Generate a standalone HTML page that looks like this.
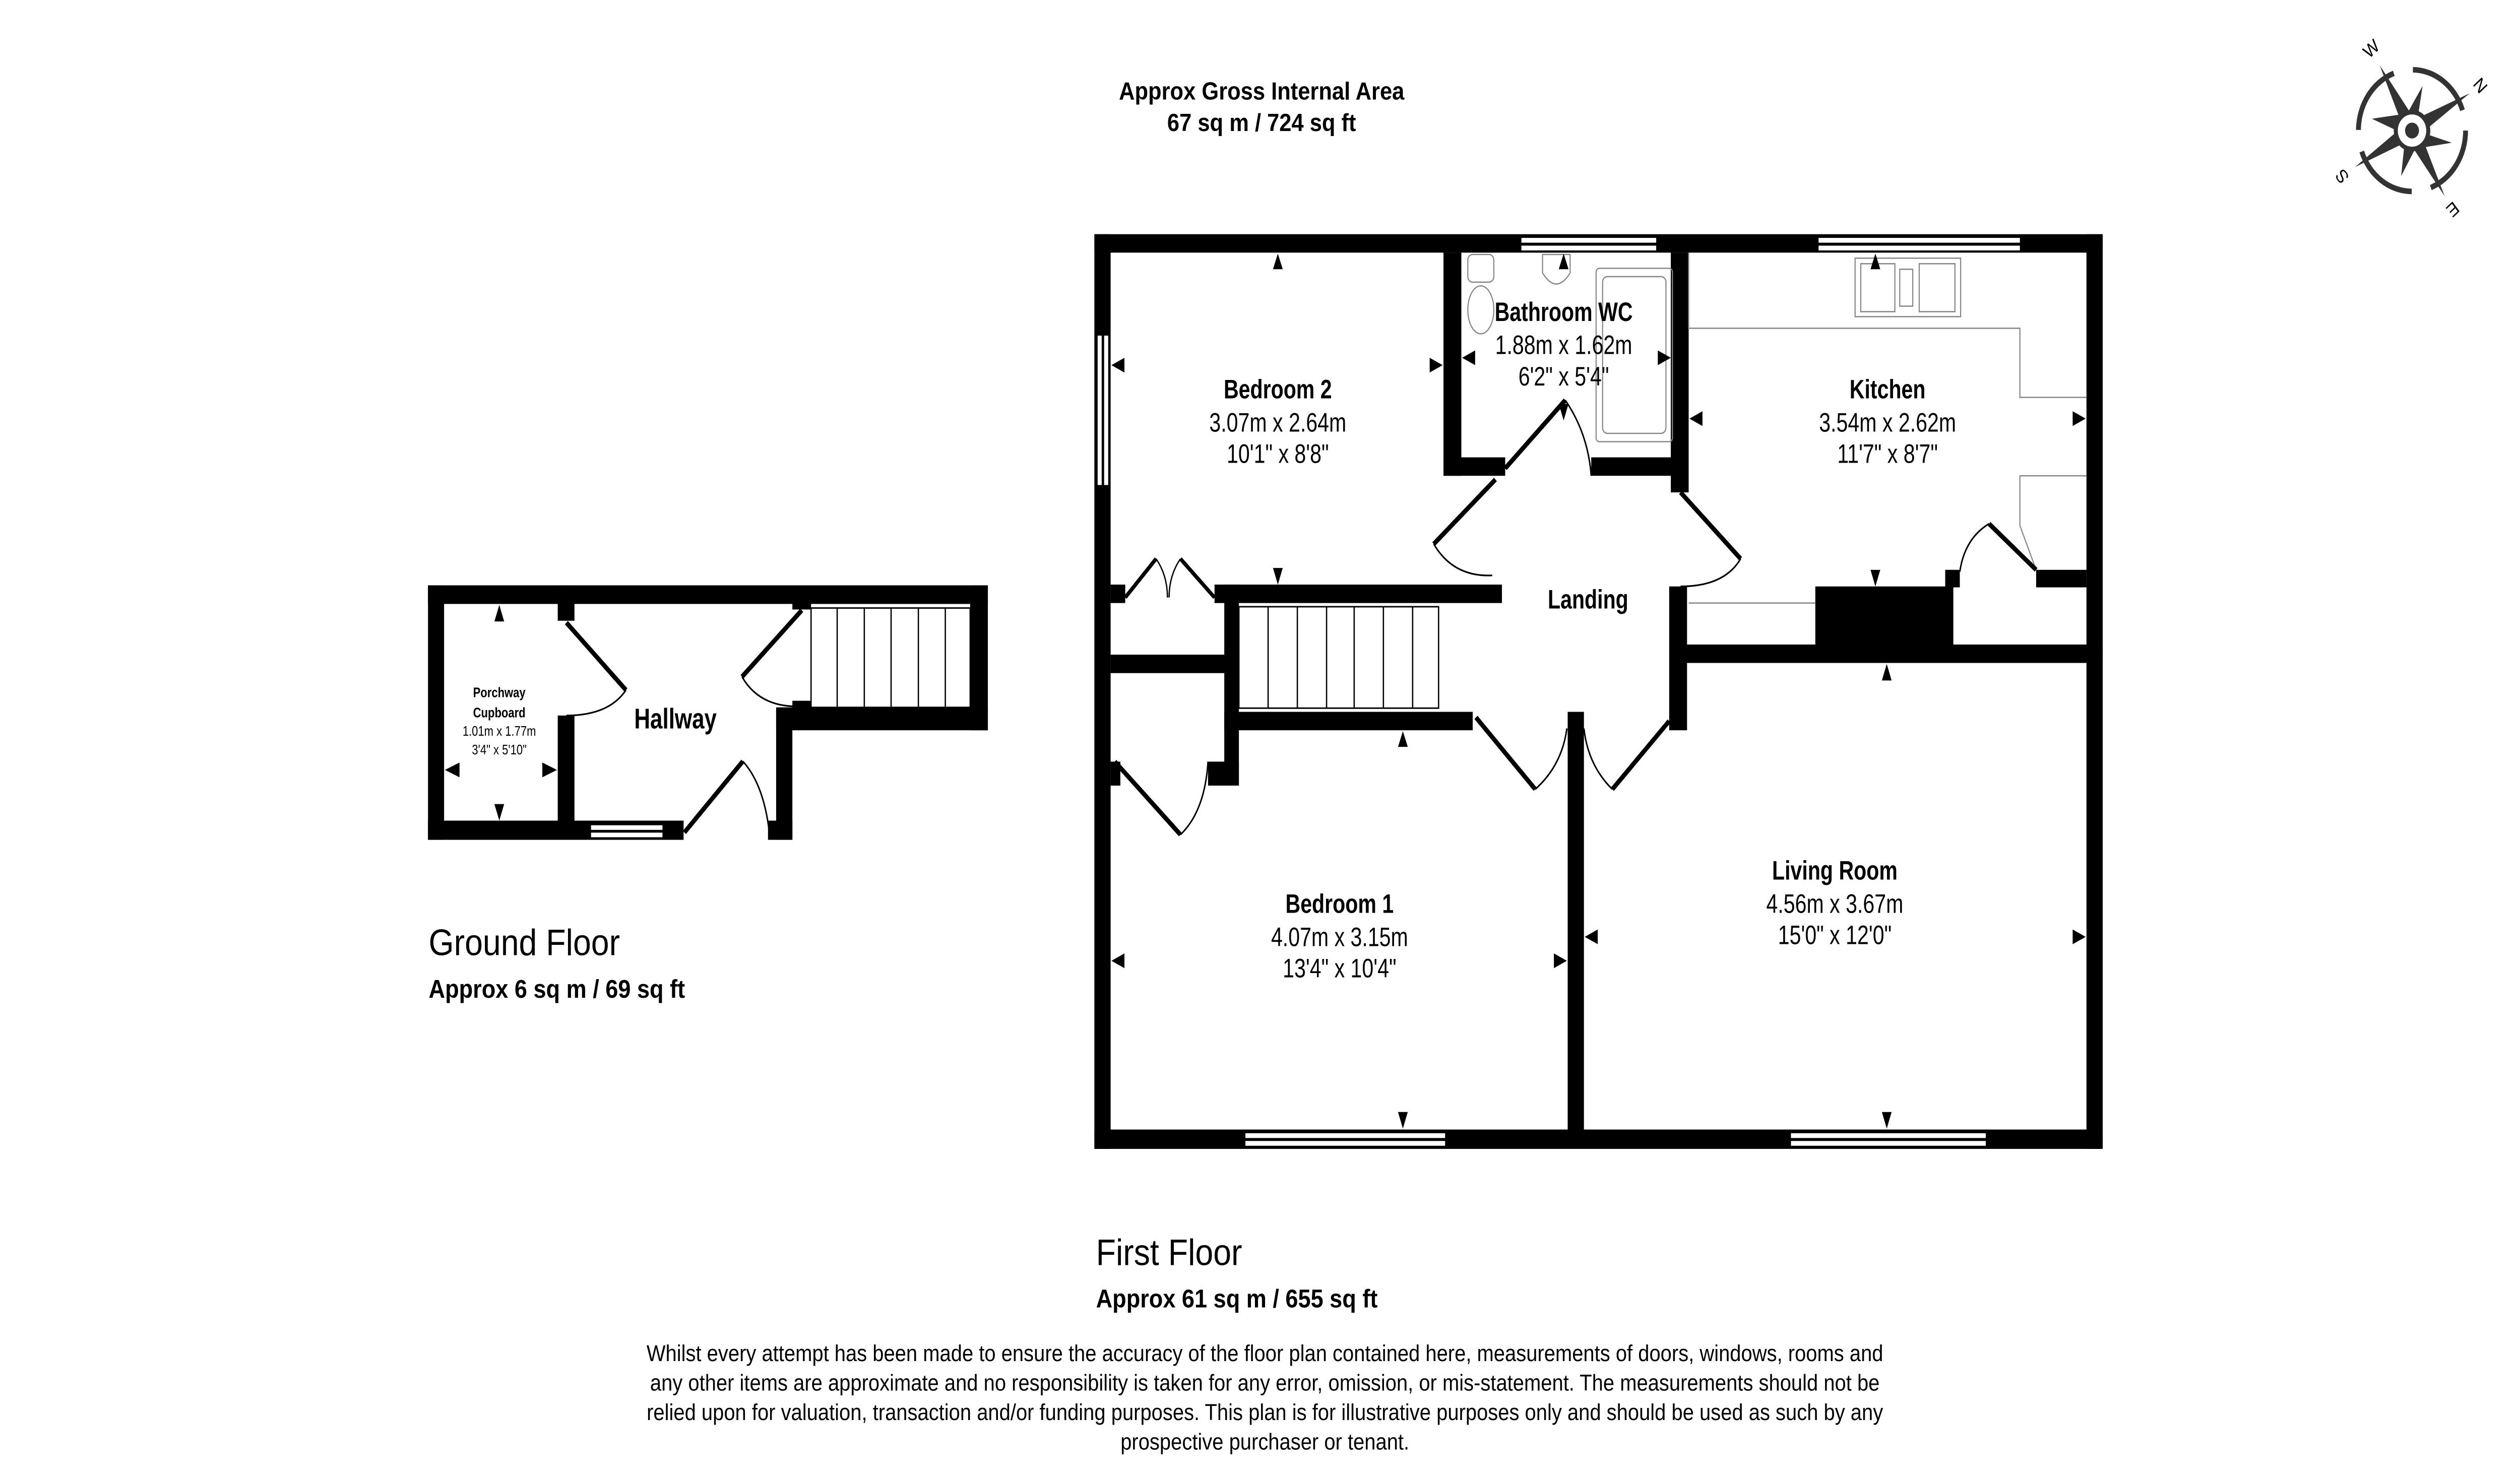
<!DOCTYPE html>
<html><head><meta charset="utf-8"><style>
html,body{margin:0;padding:0;background:#fff;width:100%;height:100%;overflow:hidden;}
svg{display:block;width:100vw;height:100vh;}
text{font-family:"Liberation Sans",Arial,sans-serif;fill:#000;}
</style></head><body>
<svg xmlns="http://www.w3.org/2000/svg" viewBox="0 0 1552 802" preserveAspectRatio="none">
<rect x="0" y="0" width="1552" height="802" fill="#fff"/>

<text x="777" y="54" font-size="13.5" font-weight="bold" text-anchor="middle">Approx Gross Internal Area</text>
<text x="777" y="71" font-size="13.5" font-weight="bold" text-anchor="middle">67 sq m / 724 sq ft</text>

<text x="264" y="518" font-size="20">Ground Floor</text>
<text x="264" y="541" font-size="14" font-weight="bold">Approx 6 sq m / 69 sq ft</text>
<text x="675" y="686" font-size="20">First Floor</text>
<text x="675" y="709" font-size="14" font-weight="bold">Approx 61 sq m / 655 sq ft</text>

<g font-size="12.4" text-anchor="middle">
<text x="779" y="738">Whilst every attempt has been made to ensure the accuracy of the floor plan contained here, measurements of doors, windows, rooms and</text>
<text x="779" y="754">any other items are approximate and no responsibility is taken for any error, omission, or mis-statement. The measurements should not be</text>
<text x="779" y="770">relied upon for valuation, transaction and/or funding purposes. This plan is for illustrative purposes only and should be used as such by any</text>
<text x="779" y="786">prospective purchaser or tenant.</text>
</g>

<g fill="#333" stroke="none">
<circle cx="1485.5" cy="70.8" r="33" fill="none" stroke="#333" stroke-width="3" stroke-dasharray="40 12"/>
<polygon points="1465.6,35.4 1488,66 1505.6,106.4 1483,76"/>
<polygon points="1521,50.6 1489,74 1450.4,90.6 1482,67"/>
<polygon points="1492,46.6 1489,64 1481,64"/>
<polygon points="1510,77.4 1492,72 1492,80"/>
<polygon points="1478.8,95.5 1481,77 1489,78"/>
<polygon points="1460.8,64.4 1479,62 1479,72"/>
<circle cx="1485.5" cy="70.8" r="10" fill="#fff" stroke="#333" stroke-width="2.5"/>
<circle cx="1485.5" cy="70.8" r="4.3"/>
</g>
<g fill="#333" font-size="10">
<text x="1460" y="30" text-anchor="middle" transform="rotate(-40 1460 26)">W</text>
<text x="1528" y="50" text-anchor="middle" transform="rotate(50 1528 46)">N</text>
<text x="1442" y="100" text-anchor="middle" transform="rotate(-130 1442 96)">S</text>
<text x="1511" y="118" text-anchor="middle" transform="rotate(140 1511 114)">E</text>
</g>

<g fill="#000">
<rect x="263.6" y="317.4" width="344.8" height="10.1"/>
<rect x="263.6" y="317.4" width="9.9" height="138"/>
<rect x="263.6" y="445" width="157.4" height="10.4"/>
<rect x="343.5" y="317.4" width="10.3" height="19.2"/>
<rect x="343.5" y="388" width="10.3" height="67"/>
<rect x="478" y="383.6" width="130.4" height="12.4"/>
<rect x="478" y="383.6" width="10" height="71.8"/>
<rect x="473" y="445" width="15" height="10.4"/>
<rect x="597.5" y="317.4" width="10.9" height="78.6"/>
<rect x="488" y="327" width="11.5" height="3.5"/>
<rect x="488" y="380" width="11.5" height="4"/>
</g>
<rect x="364" y="447.5" width="44" height="2.5" fill="#fff"/>
<rect x="364" y="451.5" width="44" height="2.5" fill="#fff"/>
<g fill="none" stroke="#000" stroke-width="0.8">
<rect x="499.5" y="329.7" width="98" height="53.9"/>
<line x1="515.6" y1="329.7" x2="515.6" y2="383.6"/>
<line x1="532.3" y1="329.7" x2="532.3" y2="383.6"/>
<line x1="548.8" y1="329.7" x2="548.8" y2="383.6"/>
<line x1="565.6" y1="329.7" x2="565.6" y2="383.6"/>
<line x1="582.2" y1="329.7" x2="582.2" y2="383.6"/>
</g>
<g fill="none" stroke="#000">
<line x1="348.8" y1="337.6" x2="385.5" y2="374.2" stroke-width="2.6"/>
<path d="M385.5,374.2 Q375,388 348.8,388" stroke-width="0.9"/>
<line x1="493.8" y1="330.9" x2="457" y2="367" stroke-width="2.6"/>
<path d="M457,367 Q468,384 493.8,383" stroke-width="0.9"/>
<line x1="421.5" y1="451.4" x2="457.5" y2="412.8" stroke-width="2.6"/>
<path d="M457.5,412.8 Q470,425 473.6,449.8" stroke-width="0.9"/>
</g>
<g font-size="7.6" text-anchor="middle" transform="matrix(0.9,0,0,1,30.75,0)">
<text x="307.5" y="378" font-weight="bold">Porchway</text>
<text x="307.5" y="389" font-weight="bold">Cupboard</text>
<text x="307.5" y="399">1.01m x 1.77m</text>
<text x="307.5" y="409">3'4" x 5'10"</text>
</g>
<text x="416" y="395" font-size="15.5" font-weight="bold" text-anchor="middle" transform="matrix(0.88,0,0,1,49.9,0)">Hallway</text>
<g fill="#000">
<polygon points="307.5,328 304.5,337 310.5,337"/>
<polygon points="307.5,445 304.5,436 310.5,436"/>
<polygon points="274,417.5 283,413.5 283,421.5"/>
<polygon points="343,417.5 334,413.5 334,421.5"/>
</g>

<g fill="#000">
<rect x="674" y="127" width="621" height="10"/>
<rect x="674" y="127" width="10" height="496"/>
<rect x="1285" y="127" width="10" height="496"/>
<rect x="674" y="612.5" width="621" height="10.5"/>
<rect x="889" y="137" width="11" height="121"/>
<rect x="889" y="248" width="38" height="10"/>
<rect x="980" y="248" width="50" height="10"/>
<rect x="1029" y="137" width="11" height="130"/>
<rect x="1028" y="318" width="11" height="78"/>
<rect x="748" y="317" width="177" height="10"/>
<rect x="684" y="317" width="9" height="10"/>
<rect x="684" y="355" width="79" height="10"/>
<rect x="754" y="317" width="9" height="109"/>
<rect x="744" y="413" width="19" height="13"/>
<rect x="684" y="413" width="6" height="13"/>
<rect x="754" y="386" width="153" height="10"/>
<rect x="965.5" y="386" width="10" height="230"/>
<rect x="1030" y="349.5" width="265" height="10"/>
<rect x="1118" y="318" width="85" height="33"/>
<rect x="1254" y="309" width="31" height="9.5"/>
<rect x="1198" y="309" width="9" height="9.5"/>
</g>
<g fill="#fff">
<rect x="937" y="129" width="83" height="2.6"/>
<rect x="937" y="133.2" width="83" height="2.6"/>
<rect x="1120" y="129" width="124" height="2.6"/>
<rect x="1120" y="133.2" width="124" height="2.6"/>
<rect x="676" y="182" width="2.5" height="81"/>
<rect x="680" y="182" width="2.5" height="81"/>
<rect x="767" y="614.5" width="123" height="2.6"/>
<rect x="767" y="618.7" width="123" height="2.6"/>
<rect x="1103" y="614.5" width="120" height="2.6"/>
<rect x="1103" y="618.7" width="120" height="2.6"/>
</g>
<g fill="none" stroke="#000" stroke-width="0.8">
<rect x="763" y="329" width="123" height="55"/>
<line x1="781" y1="329" x2="781" y2="384"/>
<line x1="799" y1="329" x2="799" y2="384"/>
<line x1="817" y1="329" x2="817" y2="384"/>
<line x1="834" y1="329" x2="834" y2="384"/>
<line x1="852" y1="329" x2="852" y2="384"/>
<line x1="870" y1="329" x2="870" y2="384"/>
</g>
<g fill="none" stroke="#888" stroke-width="0.7">
<polyline points="1040,137 1040,178 1244,178 1244,215.5 1285,215.5"/>
<polyline points="1285,258 1244,258 1244,285 1254,309"/>
<line x1="1040" y1="327" x2="1118" y2="327"/>
<rect x="1142.5" y="140" width="65" height="31.7"/>
<rect x="1146" y="143" width="21" height="26"/>
<rect x="1170" y="146" width="8" height="20"/>
<rect x="1182" y="143" width="22" height="26"/>
</g>
<g fill="none" stroke="#888" stroke-width="0.7">
<rect x="983" y="145.5" width="47" height="94" rx="2"/>
<rect x="987" y="150" width="39" height="85" rx="3"/>
<rect x="904" y="138" width="16" height="15" rx="3"/>
<ellipse cx="912" cy="168" rx="8" ry="13"/>
<path d="M950,138 L967,138 L967,148 Q958.5,160 950,148 Z"/>
</g>
<g fill="none" stroke="#000">
<line x1="927" y1="254" x2="964" y2="217" stroke-width="2.6"/>
<path d="M964,217 Q978,235 980,258" stroke-width="0.9"/>
<line x1="921" y1="260" x2="883" y2="295" stroke-width="2.6"/>
<path d="M883,295 Q895,313 919,312" stroke-width="0.9"/>
<line x1="1035" y1="267" x2="1072" y2="303" stroke-width="2.6"/>
<path d="M1072,303 Q1062,318 1035,318" stroke-width="0.9"/>
<line x1="1254" y1="309" x2="1225" y2="284" stroke-width="2.6"/>
<path d="M1225,284 Q1210,292 1207,310" stroke-width="0.9"/>
<line x1="693" y1="324" x2="712" y2="303" stroke-width="2.2"/>
<path d="M712,303 Q719,312 719,324" stroke-width="0.8"/>
<line x1="748" y1="324" x2="727" y2="303" stroke-width="2.2"/>
<path d="M727,303 Q720,312 720,324" stroke-width="0.8"/>
<line x1="686.6" y1="413" x2="727" y2="452.6" stroke-width="2.6"/>
<path d="M727,452.6 Q742,440 744,413" stroke-width="0.9"/>
<line x1="909" y1="389" x2="945.5" y2="428" stroke-width="2.6"/>
<path d="M945.5,428 Q962,415 965,395" stroke-width="0.9"/>
<line x1="1028" y1="391" x2="993" y2="428" stroke-width="2.6"/>
<path d="M993,428 Q978,415 975.5,395" stroke-width="0.9"/>
</g>
<g fill="#000">
<polygon points="787,137.5 784,146 790,146"/>
<polygon points="787,317 784,308 790,308"/>
<polygon points="684.5,198 692.5,194 692.5,202"/>
<polygon points="888.5,198 880.5,194 880.5,202"/>
<polygon points="963,137.5 960,146 966,146"/>
<polygon points="963,228 960,219 966,219"/>
<polygon points="900.5,194 908.5,190 908.5,198"/>
<polygon points="1029,194 1021,190 1021,198"/>
<polygon points="1155,137.5 1152,146 1158,146"/>
<polygon points="1155,318 1152,309 1158,309"/>
<polygon points="1040.5,227 1048.5,223 1048.5,231"/>
<polygon points="1284.5,227 1276.5,223 1276.5,231"/>
<polygon points="864,396.5 861,405 867,405"/>
<polygon points="864,612 861,603 867,603"/>
<polygon points="684.5,521 692.5,517 692.5,525"/>
<polygon points="965,521 957,517 957,525"/>
<polygon points="1162,360 1159,369 1165,369"/>
<polygon points="1162,612 1159,603 1165,603"/>
<polygon points="976,508 984,504 984,512"/>
<polygon points="1284.5,508 1276.5,504 1276.5,512"/>
</g>
<g text-anchor="middle" font-size="14.5">
<g transform="matrix(0.88,0,0,1,94.4,0)">
<text x="787" y="216" font-weight="bold">Bedroom 2</text>
<text x="787" y="234">3.07m x 2.64m</text>
<text x="787" y="251">10'1" x 8'8"</text>
</g>
<g transform="matrix(0.88,0,0,1,115.6,0)">
<text x="963" y="174" font-weight="bold">Bathroom WC</text>
<text x="963" y="192">1.88m x 1.62m</text>
<text x="963" y="209">6'2" x 5'4"</text>
</g>
<g transform="matrix(0.88,0,0,1,139.5,0)">
<text x="1162.5" y="216" font-weight="bold">Kitchen</text>
<text x="1162.5" y="234">3.54m x 2.62m</text>
<text x="1162.5" y="251">11'7" x 8'7"</text>
</g>
<text x="978" y="330" font-weight="bold" transform="matrix(0.88,0,0,1,117.4,0)">Landing</text>
<g transform="matrix(0.88,0,0,1,99,0)">
<text x="825" y="495" font-weight="bold">Bedroom 1</text>
<text x="825" y="513">4.07m x 3.15m</text>
<text x="825" y="530">13'4" x 10'4"</text>
</g>
<g transform="matrix(0.88,0,0,1,135.6,0)">
<text x="1130" y="477" font-weight="bold">Living Room</text>
<text x="1130" y="495">4.56m x 3.67m</text>
<text x="1130" y="512">15'0" x 12'0"</text>
</g>
</g>
</svg>
</body></html>
